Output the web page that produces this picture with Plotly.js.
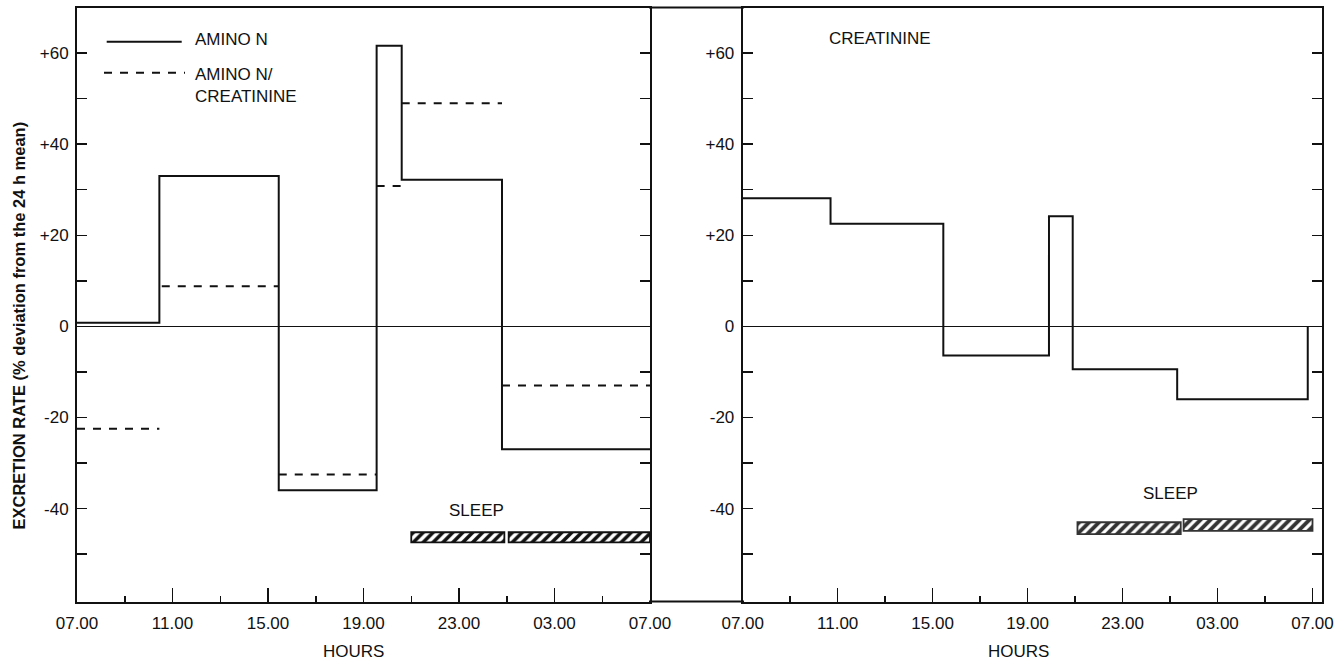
<!DOCTYPE html>
<html>
<head>
<meta charset="utf-8">
<script src="https://cdn.plot.ly/plotly-3.0.1.min.js"></script>
<style>html,body{margin:0;padding:0;background:#fff;}#chart{width:1338px;height:665px;}</style>
</head>
<body>
<div id="chart"></div>
<script>
// ---- data ----
const hourLabels = ['07.00','11.00','15.00','19.00','23.00','03.00','07.00'];
const majorHours = [0, 4, 8, 12, 16, 20, 24];
const minorHours = [2, 6, 10, 14, 18, 22];
const yTickVals = [-40, -20, 0, 20, 40, 60];
const yTickText = ['-40', '-20', '0', '+20', '+40', '+60'];
const yMinorVals = [-50, -30, -10, 10, 30, 50];

// Amino N (left panel, solid step line): period boundaries (hours after 07.00) and values
const aminoNBounds = [0, 3.45, 8.45, 12.55, 13.6, 17.8, 24];
const aminoNValues = [0.8, 33, -36, 61.6, 32.2, -27];

// Amino N / creatinine (left panel, dashed segments)
const ratioStart = [0, 3.55, 8.45, 12.55, 13.6, 17.8];
const ratioEnd   = [3.45, 8.45, 12.55, 13.6, 17.8, 24];
const ratioValue = [-22.5, 8.8, -32.5, 30.8, 49, -13];

// Creatinine (right panel, solid step line)
const creatBounds = [0, 3.7, 8.45, 12.9, 13.9, 18.3, 23.8];
const creatValues = [28.1, 22.5, -6.4, 24.2, -9.4, -16];
const creatEndValue = 0;

// Sleep periods (hatched bars)
const sleepStartL = [14, 18.08];
const sleepEndL   = [17.9, 24];
const sleepTopL   = [-45.2, -45.2];
const sleepBotL   = [-47.4, -47.4];
const sleepStartR = [14.1, 18.57];
const sleepEndR   = [18.45, 24];
const sleepTopR   = [-43.0, -42.3];
const sleepBotR   = [-45.6, -44.9];

// ---- helpers ----
const W = 1338, H = 665;
const fx = px => px / W;
const fy = py => 1 - py / H;
const FONT = 'Liberation Sans, Arial, Helvetica, sans-serif';
const INK = '#111';
const FS = 17;

function stepTrace(bounds, values, endValue, xa, ya, name, dash) {
  const y = values.slice();
  y.push(endValue === undefined ? values[values.length - 1] : endValue);
  return {
    type: 'scatter', mode: 'lines', x: bounds, y: y, xaxis: xa, yaxis: ya, name: name,
    line: {color: INK, width: 2, shape: 'hv', dash: dash || 'solid'}, showlegend: false, hoverinfo: 'x+y+name'
  };
}
function segTrace(starts, ends, vals, xa, ya, name) {
  const x = [], y = [];
  for (let i = 0; i < starts.length; i++) {
    x.push(starts[i], ends[i], null);
    y.push(vals[i], vals[i], null);
  }
  return {
    type: 'scatter', mode: 'lines', x: x, y: y, xaxis: xa, yaxis: ya, name: name,
    line: {color: INK, width: 2, dash: '8px,8px'}, showlegend: false, connectgaps: false
  };
}
function sleepTrace(starts, ends, tops, bots, xa, ya, fg, sol) {
  return {
    type: 'bar', orientation: 'h', xaxis: xa, yaxis: ya, name: 'Sleep',
    base: starts,
    x: starts.map((s, i) => ends[i] - s),
    y: tops.map((t, i) => (t + bots[i]) / 2),
    width: tops.map((t, i) => t - bots[i]),
    marker: {color: 'white', line: {color: fg, width: 1.8},
             pattern: {shape: '/', fgcolor: fg, bgcolor: 'white', size: 7, solidity: sol}},
    showlegend: false, hoverinfo: 'skip'
  };
}

const traces = [
  stepTrace(aminoNBounds, aminoNValues, undefined, 'x', 'y', 'AMINO N'),
  segTrace(ratioStart, ratioEnd, ratioValue, 'x', 'y', 'AMINO N/CREATININE'),
  stepTrace(creatBounds, creatValues, creatEndValue, 'x2', 'y2', 'CREATININE'),
  sleepTrace(sleepStartL, sleepEndL, sleepTopL, sleepBotL, 'x', 'y', '#111', 0.5),
  sleepTrace(sleepStartR, sleepEndR, sleepTopR, sleepBotR, 'x2', 'y2', '#333', 0.55)
];

const yDomain = [fy(601.5), fy(7.5)];
const yRange = [-60.4, 70];

function xAxis(domain, range, anchor) {
  return {
    domain: domain, range: range, anchor: anchor, fixedrange: true,
    showline: true, linecolor: INK, linewidth: 2, mirror: true,
    showgrid: false, zeroline: false,
    ticks: 'inside', ticklen: 14, tickwidth: 1.5, tickcolor: INK,
    tickmode: 'array', tickvals: majorHours, ticktext: hourLabels,
    ticklabelstandoff: 5,
    minor: {tickmode: 'array', tickvals: minorHours, ticks: 'inside', ticklen: 6, tickwidth: 1.5, tickcolor: INK, showgrid: false},
    tickfont: {family: FONT, size: FS, color: INK}
  };
}
function yAxis(anchor) {
  return {
    domain: yDomain, range: yRange, anchor: anchor, fixedrange: true,
    showline: true, linecolor: INK, linewidth: 2, mirror: 'ticks',
    showgrid: false, zeroline: true, zerolinecolor: INK, zerolinewidth: 1.6,
    ticks: 'inside', ticklen: 10, tickwidth: 1.5, tickcolor: INK,
    tickmode: 'array', tickvals: yTickVals, ticktext: yTickText,
    ticklabelstandoff: 3,
    minor: {tickmode: 'array', tickvals: yMinorVals, ticks: 'inside', ticklen: 10, tickwidth: 1.5, tickcolor: INK, showgrid: false},
    tickfont: {family: FONT, size: FS, color: INK}
  };
}

const txt = (text, x, y, opts) => Object.assign({
  text: text, x: x, y: y, xref: 'paper', yref: 'paper', showarrow: false,
  font: {family: FONT, size: FS, color: INK}, xanchor: 'left', yanchor: 'middle', align: 'left'
}, opts || {});

const layout = {
  width: W, height: H, autosize: false,
  margin: {l: 0, r: 0, t: 0, b: 0, pad: 0},
  paper_bgcolor: 'white', plot_bgcolor: 'white',
  barmode: 'overlay', showlegend: false,
  xaxis: xAxis([fx(77), fx(650)], [0, 24], 'y'),
  yaxis: yAxis('x'),
  xaxis2: xAxis([fx(742.7), fx(1322)], [0, 24.4], 'y2'),
  yaxis2: yAxis('x2'),
  shapes: [
    {type: 'line', xref: 'paper', yref: 'paper', x0: fx(649), x1: fx(744), y0: fy(7.5), y1: fy(7.5), line: {color: INK, width: 2}},
    {type: 'line', xref: 'paper', yref: 'paper', x0: fx(649), x1: fx(744), y0: fy(601.5), y1: fy(601.5), line: {color: INK, width: 2}},
    {type: 'line', xref: 'paper', yref: 'paper', x0: fx(106.7), x1: fx(181.7), y0: fy(41.7), y1: fy(41.7), line: {color: INK, width: 2}},
    {type: 'line', xref: 'paper', yref: 'paper', x0: fx(104), x1: fx(185), y0: fy(72.7), y1: fy(72.7), line: {color: INK, width: 2, dash: '8px,8px'}}
  ],
  annotations: [
    txt('<b>EXCRETION RATE (% deviation from the 24 h mean)</b>', fx(18.5), fy(326), {textangle: -90, xanchor: 'center', yanchor: 'middle', align: 'center', font: {family: FONT, size: 16.5, color: INK}}),
    txt('HOURS', 11.6, fy(651), {xref: 'x', xanchor: 'center'}),
    txt('HOURS', 11.6, fy(651), {xref: 'x2', xanchor: 'center'}),
    txt('AMINO N', fx(193), fy(39)),
    txt('AMINO N/<br>CREATININE', fx(193), fy(85)),
    txt('CREATININE', 3.54, 63.3, {xref: 'x2', yref: 'y2'}),
    txt('SLEEP', 16.75, -40.4, {xref: 'x', yref: 'y', xanchor: 'center'}),
    txt('SLEEP', 18.0, -36.7, {xref: 'x2', yref: 'y2', xanchor: 'center'})
  ]
};

Plotly.newPlot('chart', traces, layout, {staticPlot: true, displayModeBar: false});
</script>
</body>
</html>
